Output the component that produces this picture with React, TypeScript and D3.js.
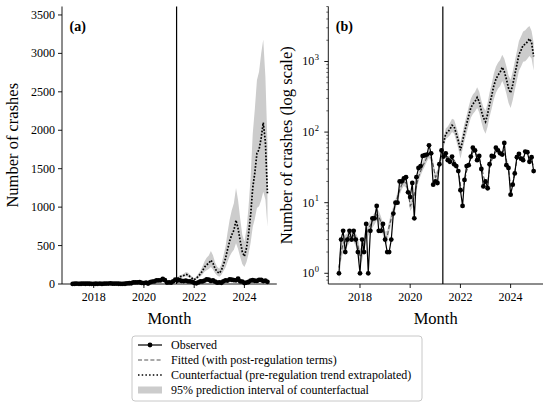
import React from "react";
import * as d3 from "d3";

// monthly series, Mar 2017 .. Dec 2024
const months = d3.timeMonth.range(new Date(2017, 2, 1), new Date(2025, 0, 1));

const observed = [
  1, 3, 4, 2, 3, 4, 3, 4, 3, 2,
  1, 3, 2, 5, 1, 4, 6, 6, 9, 4, 4, 5,
  3, 2, 2, 3, 7, 10, 10, 20, 20, 22, 23, 14,
  12, 19, 6, 23, 31, 33, 46, 47, 48, 65, 50, 18,
  20, 19, 35, 55, 45, 50, 40, 38, 45, 35, 33, 28,
  15, 9, 21, 33, 34, 45, 60, 55, 40, 46, 30, 17,
  20, 16, 35, 46, 45, 60, 55, 50, 48, 70, 34, 31,
  13, 18, 26, 44, 49, 42, 40, 53, 52, 38, 44, 28,
];

const fitted = [
  1.2, 2.0, 2.6, 2.8, 3.0, 3.3, 3.5, 3.4, 3.0, 2.5,
  1.7, 1.9, 2.7, 3.5, 4.2, 4.8, 5.4, 6.0, 6.8, 6.4, 5.3, 4.2,
  3.2, 3.3, 4.6, 6.0, 7.5, 9.5, 12, 15, 18, 20, 19, 15,
  9.0, 10, 13, 17.5, 23, 28, 33, 38, 44, 50, 43, 34,
  23, 25, 34, 46, 45, 47, 45, 42, 42, 40, 36, 30,
  18, 14, 20, 28, 34, 42, 52, 52, 46, 42, 34, 24,
  19, 19, 30, 40, 46, 55, 55, 52, 52, 56, 40, 30,
  17, 19, 27, 40, 46, 44, 44, 50, 50, 42, 40, 32,
];

// counterfactual starts at the regulation month (May 2021)
const cfStart = 50;
const counterfactual = [
  70, 95, 100, 110, 125, 120, 95, 75,
  55, 75, 100, 130, 170, 220, 250, 270, 310, 270, 200, 160,
  140, 180, 250, 330, 450, 560, 640, 700, 830, 720, 560, 420,
  360, 470, 650, 900, 1250, 1450, 1700, 1750, 1900, 2100, 1850, 1180,
];

const bandLow = [
  0.75, 1.5, 2.0, 2.2, 2.4, 2.7, 2.9, 2.8, 2.4, 1.9,
  1.3, 1.5, 2.1, 2.8, 3.4, 3.9, 4.4, 4.9, 5.6, 5.2, 4.3, 3.4,
  2.6, 2.7, 3.8, 5.0, 6.3, 8.0, 10.2, 12.8, 15.5, 17.2, 16.4, 12.9,
  7.6, 8.5, 11.2, 15.1, 19.8, 24.2, 28.5, 32.8, 38.2, 43.4, 37.3, 29.5,
  19.8, 21.6, 29.5, 40.0, 60, 80, 84, 90, 100, 95, 75, 58,
  42, 57, 75, 97, 125, 160, 180, 195, 220, 190, 140, 110,
  95, 120, 165, 215, 290, 360, 410, 445, 530, 455, 350, 260,
  220, 285, 390, 540, 740, 850, 990, 1010, 1090, 1200, 1100, 745,
];

const bandHigh = [
  1.7, 2.6, 3.3, 3.5, 3.7, 4.0, 4.2, 4.1, 3.7, 3.2,
  2.2, 2.4, 3.4, 4.3, 5.1, 5.8, 6.5, 7.2, 8.1, 7.7, 6.4, 5.1,
  3.9, 4.0, 5.5, 7.2, 8.9, 11.2, 14.0, 17.5, 20.9, 23.2, 22.0, 17.4,
  10.6, 11.7, 15.1, 20.2, 26.5, 32.2, 37.9, 43.6, 50.4, 57.2, 49.2, 38.9,
  26.5, 28.8, 39.0, 53.0, 82, 112, 120, 134, 155, 150, 120, 96,
  72, 98, 132, 172, 228, 296, 340, 370, 430, 375, 280, 225,
  200, 260, 365, 485, 670, 840, 960, 1050, 1250, 1090, 850, 640,
  550, 720, 1000, 1400, 1950, 2280, 2650, 2760, 3000, 3180, 2700, 1830,
];

const linearTicks = [0, 500, 1000, 1500, 2000, 2500, 3000, 3500];
const logTicks = [1, 10, 100, 1000];
const yearTicks = [2018, 2020, 2022, 2024];
const regulationDate = new Date(2021, 3, 20);

const legendItems = [
  "Observed",
  "Fitted (with post-regulation terms)",
  "Counterfactual (pre-regulation trend extrapolated)",
  "95% prediction interval of counterfactual",
];

const FONT = "'Liberation Serif', 'Times New Roman', serif";
const TOP = 6.5;
const BOTTOM = 284;
const xDomain = [new Date(2016, 8, 27), new Date(2025, 3, 16)];

type PanelProps = { left: number; right: number; log: boolean; label: string };

const Panel: React.FC<PanelProps> = ({ left, right, log, label }) => {
  const x = d3.scaleTime().domain(xDomain).range([left, right]);
  const y = log
    ? d3.scaleLog().domain([0.705, 6010]).range([BOTTOM, TOP])
    : d3.scaleLinear().domain([0, 3610]).range([BOTTOM, TOP]);

  const idx = d3.range(months.length);
  const area = d3
    .area<number>()
    .x((i) => x(months[i]))
    .y0((i) => y(bandLow[i]))
    .y1((i) => y(bandHigh[i]));
  const line = (vals: number[], offset = 0) =>
    d3
      .line<number>()
      .x((d, i) => x(months[i + offset]))
      .y((d) => y(d))(vals) || "";

  const minor: number[] = [];
  if (log) {
    [0.1, 1, 10, 100, 1000].forEach((dec) => {
      for (let k = 2; k <= 9; k++) {
        const v = dec * k;
        if (v > 0.705 && v < 6010) minor.push(v);
      }
    });
  }

  return (
    <g>
      <path d={area(idx) || ""} fill="#cccccc" stroke="none" />
      <path d={line(fitted)} fill="none" stroke="#555" strokeWidth={1.1} strokeDasharray="4,2.2" />
      <path
        d={line(counterfactual, cfStart)}
        fill="none"
        stroke="#000"
        strokeWidth={1.7}
        strokeDasharray="1.7,1.6"
      />
      <path d={line(observed)} fill="none" stroke="#000" strokeWidth={1.2} />
      {observed.map((v, i) => (
        <circle key={i} cx={x(months[i])} cy={y(v)} r={2.4} fill="#000" />
      ))}
      <line x1={x(regulationDate)} x2={x(regulationDate)} y1={TOP} y2={BOTTOM} stroke="#000" strokeWidth={1.2} />

      {/* axes */}
      <line x1={left} x2={left} y1={TOP} y2={BOTTOM} stroke="#000" strokeWidth={0.9} />
      <line x1={left} x2={right} y1={BOTTOM} y2={BOTTOM} stroke="#000" strokeWidth={0.9} />
      {yearTicks.map((yr) => {
        const px = x(new Date(yr, 0, 1));
        return (
          <g key={yr}>
            <line x1={px} x2={px} y1={BOTTOM} y2={BOTTOM + 4} stroke="#000" strokeWidth={0.9} />
            <text x={px} y={301} textAnchor="middle" fontSize={12} fontFamily={FONT}>
              {yr}
            </text>
          </g>
        );
      })}
      {log
        ? logTicks.map((t, k) => (
            <g key={t}>
              <line x1={left - 4} x2={left} y1={y(t)} y2={y(t)} stroke="#000" strokeWidth={0.9} />
              <text x={left - 14} y={y(t) + 4} textAnchor="end" fontSize={12} fontFamily={FONT}>
                10
              </text>
              <text x={left - 13.5} y={y(t) - 1.5} textAnchor="start" fontSize={8.5} fontFamily={FONT}>
                {k}
              </text>
            </g>
          ))
        : linearTicks.map((t) => (
            <g key={t}>
              <line x1={left - 4} x2={left} y1={y(t)} y2={y(t)} stroke="#000" strokeWidth={0.9} />
              <text x={left - 7} y={y(t) + 4} textAnchor="end" fontSize={12} fontFamily={FONT}>
                {t}
              </text>
            </g>
          ))}
      {minor.map((v) => (
        <line key={v} x1={left - 2} x2={left} y1={y(v)} y2={y(v)} stroke="#000" strokeWidth={0.6} />
      ))}

      <text x={(left + right) / 2} y={323.5} textAnchor="middle" fontSize={16.5} fontFamily={FONT}>
        Month
      </text>
      <text
        transform={`translate(${log ? 292 : 18},${(TOP + BOTTOM) / 2}) rotate(-90)`}
        textAnchor="middle"
        fontSize={16.5}
        fontFamily={FONT}
      >
        {log ? "Number of crashes (log scale)" : "Number of crashes"}
      </text>
      <text x={left + 7.5} y={30.5} fontSize={14} fontWeight="bold" fontFamily={FONT}>
        {label}
      </text>
    </g>
  );
};

const Legend: React.FC = () => {
  const rowY = (i: number) => 345 + i * 15;
  return (
    <g>
      <rect x={132} y={336} width={290} height={65} rx={3} fill="#fff" stroke="#c8c8c8" strokeWidth={1} />
      <line x1={138} x2={162} y1={rowY(0)} y2={rowY(0)} stroke="#000" strokeWidth={1.2} />
      <circle cx={150} cy={rowY(0)} r={2.4} fill="#000" />
      <line x1={138} x2={162} y1={rowY(1)} y2={rowY(1)} stroke="#555" strokeWidth={1.1} strokeDasharray="4,2.2" />
      <line x1={138} x2={162} y1={rowY(2)} y2={rowY(2)} stroke="#000" strokeWidth={1.4} strokeDasharray="1.5,2.2" />
      <rect x={138} y={rowY(3) - 3.5} width={24} height={7} fill="#cccccc" />
      {legendItems.map((t, i) => (
        <text key={t} x={171} y={rowY(i) + 4} fontSize={12} fontFamily={FONT}>
          {t}
        </text>
      ))}
    </g>
  );
};

export default function App() {
  return (
    <>
      <style>{`body{margin:0}`}</style>
      <svg width={550} height={408} style={{ display: "block", background: "#fff" }}>
        <Panel left={62} right={276.8} log={false} label="(a)" />
        <Panel left={328.3} right={543} log={true} label="(b)" />
        <Legend />
      </svg>
    </>
  );
}
